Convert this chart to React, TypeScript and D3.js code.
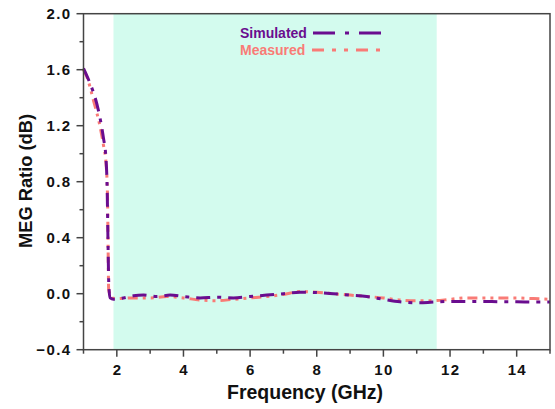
import * as d3 from "d3";

const freqSim = [1.0, 1.2, 1.35, 1.5, 1.6, 1.67, 1.71, 1.74, 1.76, 1.8, 1.9, 2.2, 2.5, 2.8, 3.2, 3.6, 4.0, 4.5, 5.0, 5.5, 6.0, 6.5, 7.0, 7.5, 8.0, 8.5, 9.0, 9.5, 10.0, 10.5, 11.0, 11.5, 12.0, 12.5, 13.0, 13.5, 14.0, 14.5, 15.0];
const simulated = [1.61, 1.5, 1.4, 1.25, 1.11, 0.98, 0.75, 0.3, 0.06, -0.03, -0.04, -0.03, -0.015, -0.01, -0.02, -0.01, -0.02, -0.03, -0.025, -0.03, -0.02, -0.01, 0.0, 0.01, 0.008, 0.0, -0.01, -0.02, -0.04, -0.058, -0.065, -0.06, -0.055, -0.055, -0.055, -0.058, -0.058, -0.06, -0.06];

const freqMeas = [1.0, 1.1, 1.3, 1.5, 1.6, 1.68, 1.72, 1.74, 1.755, 1.85, 2.0, 2.5, 3.0, 3.5, 4.0, 4.5, 5.0, 5.5, 6.0, 6.5, 7.0, 7.5, 8.0, 8.5, 9.0, 9.5, 10.0, 10.5, 11.0, 11.5, 12.0, 12.5, 13.0, 13.5, 14.0, 14.5, 15.0];
const measured = [1.6, 1.55, 1.38, 1.19, 1.06, 0.92, 0.7, 0.3, 0.03, -0.03, -0.035, -0.03, -0.03, -0.02, -0.03, -0.045, -0.05, -0.04, -0.03, -0.02, -0.005, 0.015, 0.01, 0.0, -0.01, -0.02, -0.03, -0.045, -0.05, -0.05, -0.04, -0.03, -0.03, -0.03, -0.03, -0.035, -0.04];

const xTicks = [2, 4, 6, 8, 10, 12, 14];
const yTicks = [-0.4, 0.0, 0.4, 0.8, 1.2, 1.6, 2.0];
const band = [1.9, 11.6];

const W = 555;
const H = 409;
const m = { left: 83.5, right: 550, top: 13.7, bottom: 349.7 };

export default function App() {
  const x = d3.scaleLinear().domain([1, 15]).range([m.left, m.right]);
  const y = d3.scaleLinear().domain([-0.4, 2.0]).range([m.bottom, m.top]);

  const line = d3
    .line<[number, number]>()
    .x((d) => x(d[0]))
    .y((d) => y(d[1]))
    .curve(d3.curveMonotoneX);

  const simPts = freqSim.map((f, i) => [f, simulated[i]] as [number, number]);
  const measPts = freqMeas.map((f, i) => [f, measured[i]] as [number, number]);

  const xMinor = d3.range(1, 16, 1).filter((v) => v % 2 === 1);
  const yMinor = d3.range(-0.2, 2.0, 0.4);

  const font = "'Liberation Sans', Arial, sans-serif";
  const axisColor = "#444";
  const simColor = "#6a0d8f";
  const measColor = "#f97b76";

  return (
    <svg width={W} height={H} style={{ position: "absolute", left: 0, top: 0, background: "#fff" }} fontFamily={font}>
      <rect x={x(band[0])} y={m.top} width={x(band[1]) - x(band[0])} height={m.bottom - m.top} fill="#d3fbee" />

      <path d={line(measPts) || ""} fill="none" stroke={measColor} strokeWidth={3} strokeDasharray="10 5 3 5 3 5" />
      <path d={line(simPts) || ""} fill="none" stroke={simColor} strokeWidth={3} strokeDasharray="14 7 4 7" />

      {/* frame */}
      <rect x={m.left} y={m.top} width={m.right - m.left} height={m.bottom - m.top} fill="none" stroke={axisColor} strokeWidth={1.5} />

      {yTicks.map((t) => (
        <g key={"y" + t}>
          <line x1={m.left - 7} x2={m.left} y1={y(t)} y2={y(t)} stroke={axisColor} strokeWidth={1.5} />
          <text x={71.5} y={y(t) + 5.5} textAnchor="end" fontSize={15} letterSpacing={1.4} fontWeight="bold" fill="#111">
            {t < 0 ? "\u2212" + Math.abs(t).toFixed(1) : t.toFixed(1)}
          </text>
        </g>
      ))}
      {yMinor.map((t) => (
        <line key={"ym" + t} x1={m.left - 4} x2={m.left} y1={y(t)} y2={y(t)} stroke={axisColor} strokeWidth={1.5} />
      ))}

      {xTicks.map((t) => (
        <g key={"x" + t}>
          <line x1={x(t)} x2={x(t)} y1={m.bottom} y2={m.bottom + 7} stroke={axisColor} strokeWidth={1.5} />
          <text x={x(t) + 0.7} y={374.5} textAnchor="middle" fontSize={15} letterSpacing={1.4} fontWeight="bold" fill="#111">
            {t}
          </text>
        </g>
      ))}
      {xMinor.map((t) => (
        <line key={"xm" + t} x1={x(t)} x2={x(t)} y1={m.bottom} y2={m.bottom + 4} stroke={axisColor} strokeWidth={1.5} />
      ))}

      <text x={305} y={399} textAnchor="middle" fontSize={19.5} fontWeight="bold" fill="#111">
        Frequency (GHz)
      </text>
      <text transform="rotate(-90)" x={-181} y={32} textAnchor="middle" fontSize={18.3} fontWeight="bold" fill="#111">
        MEG Ratio (dB)
      </text>

      <text x={240} y={37.5} fontSize={14} fontWeight="bold" fill={simColor}>Simulated</text>
      <line x1={313} x2={382} y1={33} y2={33} stroke={simColor} strokeWidth={3} strokeDasharray="22 10 4 10" />
      <text x={240} y={54.5} fontSize={14} fontWeight="bold" fill={measColor}>Measured</text>
      <line x1={312} x2={382} y1={50} y2={50} stroke={measColor} strokeWidth={3} strokeDasharray="12 8 4 8 4 8" />
    </svg>
  );
}
